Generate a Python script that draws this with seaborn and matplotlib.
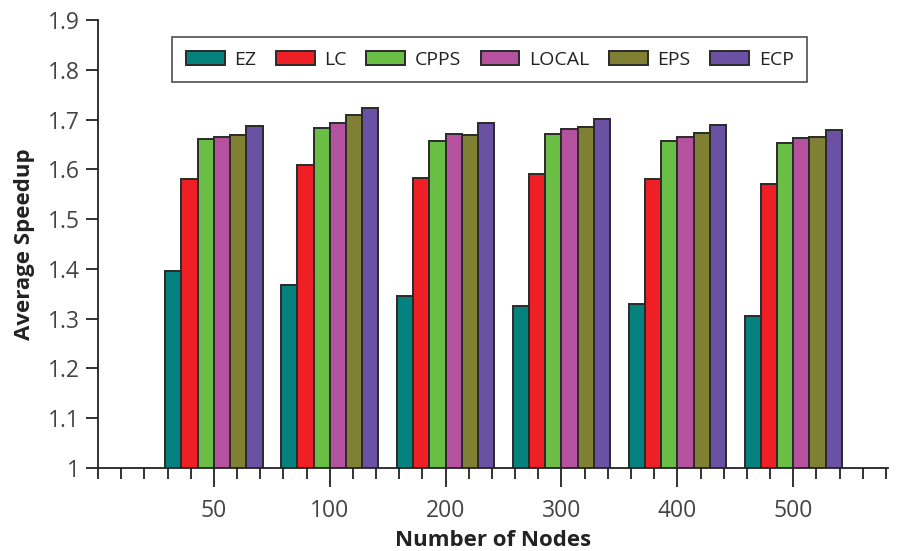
import numpy as np
import pandas as pd
import matplotlib
matplotlib.use("Agg")
import matplotlib.pyplot as plt
from matplotlib.ticker import FixedLocator
import seaborn as sns

# Average speedup per node count for each scheduling method
nodes = ["50", "100", "200", "300", "400", "500"]
methods = ["EZ", "LC", "CPPS", "LOCAL", "EPS", "ECP"]
ez = [1.395, 1.367, 1.345, 1.325, 1.329, 1.305]
lc = [1.580, 1.609, 1.582, 1.590, 1.580, 1.571]
cpps = [1.660, 1.684, 1.657, 1.671, 1.657, 1.653]
local = [1.664, 1.694, 1.670, 1.681, 1.665, 1.662]
eps = [1.668, 1.709, 1.668, 1.685, 1.673, 1.664]
ecp = [1.688, 1.724, 1.693, 1.701, 1.690, 1.680]
y_ticks = [1, 1.1, 1.2, 1.3, 1.4, 1.5, 1.6, 1.7, 1.8, 1.9]
y_tick_labels = ["1", "1.1", "1.2", "1.3", "1.4", "1.5", "1.6", "1.7", "1.8", "1.9"]

colors = ["#05827e", "#ee1f25", "#6abd45", "#b5529f", "#7f8033", "#6a51a3"]

series = [ez, lc, cpps, local, eps, ecp]
df = pd.DataFrame({
    "Nodes": np.repeat([nodes], len(methods), axis=0).ravel(),
    "Method": np.repeat(methods, len(nodes)),
    "Speedup": np.concatenate(series),
})

sns.set_style("white")
plt.rcParams["font.family"] = ["Open Sans", "DejaVu Sans"]

fig = plt.figure(figsize=(8.99, 5.51), dpi=100)
ax = fig.add_axes([0.109, 0.1506, 0.879, 0.8131])

sns.barplot(data=df, x="Nodes", y="Speedup", hue="Method", order=nodes,
            hue_order=methods, palette=colors, width=0.84,
            edgecolor="#2a2a2a", linewidth=1.4, saturation=1,
            errorbar=None, ax=ax)

ax.set_ylim(1, 1.9)
ax.set_xlim(-1, 5.82)
ax.set_yticks(y_ticks)
ax.set_yticklabels(y_tick_labels)
ax.set_xticks(range(len(nodes)))
ax.set_xticklabels(nodes)
ax.xaxis.set_minor_locator(FixedLocator(np.round(np.arange(-1, 5.81, 0.2), 2)))

for s in ["top", "right"]:
    ax.spines[s].set_visible(False)
for s in ["left", "bottom"]:
    ax.spines[s].set_color("#222222")
    ax.spines[s].set_linewidth(1.3)

ax.tick_params(axis="y", which="major", direction="out", length=9, width=1.3,
               color="#222222", labelsize=16.5, labelcolor="#444444", pad=4, left=True)
ax.tick_params(axis="x", which="major", direction="out", length=14, width=1.3,
               color="#222222", labelsize=16.5, labelcolor="#444444", pad=8, bottom=True)
ax.tick_params(axis="x", which="minor", direction="out", length=8, width=1.3,
               color="#222222", bottom=True)

ax.set_xlabel("Number of Nodes", fontsize=16, fontweight="bold", color="#222222", labelpad=5)
ax.set_ylabel("Average Speedup", fontsize=16, fontweight="bold", color="#222222", labelpad=9)

leg = ax.legend(ncol=6, loc="upper center", bbox_to_anchor=(0.4956, 0.962),
                borderaxespad=0, fontsize=14, frameon=True, fancybox=False,
                edgecolor="#222222", handlelength=2.0, handleheight=0.75,
                columnspacing=1.0, handletextpad=0.5, borderpad=0.7, title=None)
leg.get_frame().set_linewidth(1.2)
for t in leg.get_texts():
    t.set_color("#222222")

fig.savefig("out.png", dpi=100, facecolor="white")
